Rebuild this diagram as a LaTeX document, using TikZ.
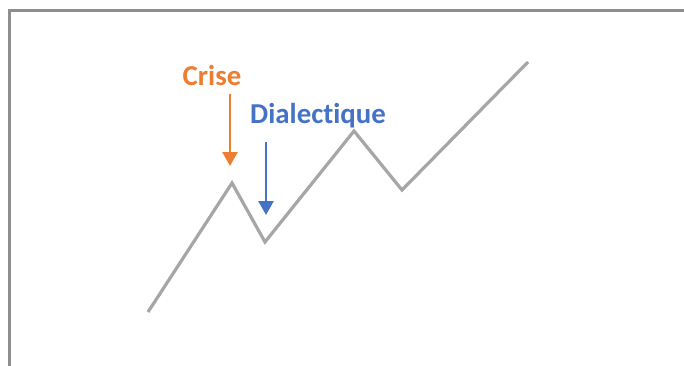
\documentclass[tikz,border=0pt]{standalone}
\usepackage{fontspec}
\setmainfont[Ligatures={NoCommon,NoRare}]{Carlito}
\usetikzlibrary{arrows.meta}
\definecolor{frame}{HTML}{8E8E8E}
\definecolor{zig}{HTML}{A6A6A6}
\definecolor{crise}{HTML}{ED7D31}
\definecolor{dial}{HTML}{4472C4}
\tikzset{
  lbl/.style={font=\bfseries\fontsize{28.8}{32}\selectfont, anchor=base, inner sep=0pt},
  pointer/.style={line width=2.6pt, -{Triangle[width=15pt,length=14pt]}},
}
\begin{document}
\begin{tikzpicture}[x=1pt,y=-1pt]
\useasboundingbox (0,0) rectangle (684,365);
\clip (0,0) rectangle (684,365);
\fill[white] (0,0) rectangle (684,365);
\draw[frame, line width=3pt] (9.5,380) -- (9.5,10.5) -- (700,10.5);
\coordinate (p1) at (148,312);
\coordinate (p2) at (232,183);
\coordinate (p3) at (265,242);
\coordinate (p4) at (354,131);
\coordinate (p5) at (402,190);
\coordinate (p6) at (528,62);
\draw[zig, line width=3.2pt, line join=miter] (p1) -- (p2) -- (p3) -- (p4) -- (p5) -- (p6);
\node[lbl, text=crise] (crise) at (212,85) {Crise};
\node[lbl, text=dial] (dial) at (318,123) {Dialectique};
\coordinate (c1) at (230,94);
\coordinate (c2) at (230,166);
\coordinate (d1) at (266,142);
\coordinate (d2) at (266,215);
\draw[pointer, crise] (c1) -- (c2);
\draw[pointer, dial] (d1) -- (d2);
\end{tikzpicture}
\end{document}
